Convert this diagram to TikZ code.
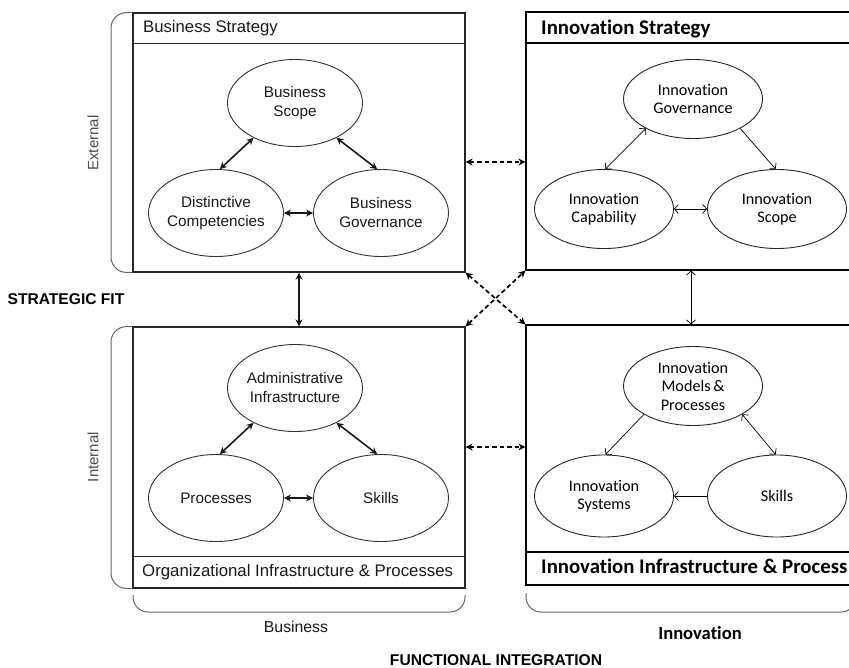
\documentclass[tikz,border=0pt]{standalone}
\usepackage{fontspec}
\setmainfont{Liberation Sans}
\newfontfamily\calfont[Ligatures=NoCommon]{Carlito}
\usetikzlibrary{arrows.meta,shapes.geometric}
\begin{document}
\begin{tikzpicture}[x=1pt,y=-1pt,
  box/.style={draw=black!85, line width=1.1pt, rectangle, inner sep=0pt},
  rbox/.style={draw=black, line width=1.2pt, rectangle, inner sep=0pt},
  lell/.style={ellipse, draw=black!80, line width=0.9pt, minimum width=135pt, minimum height=87pt, inner sep=0pt},
  rell/.style={ellipse, draw=black!85, line width=0.9pt, minimum width=139pt, minimum height=79pt, inner sep=0pt},
  ltext/.style={align=center, inner sep=0pt, text=black!90, font=\fontsize{15.3}{19}\selectfont},
  rtext/.style={align=center, inner sep=0pt, text=black, font=\calfont\fontsize{16.2}{18.5}\selectfont},
  larr/.style={{Stealth[length=7pt,width=7pt]}-{Stealth[length=7pt,width=7pt]}, line width=1.6pt, black!90},
  rarr/.style={-{Straight Barb[length=4pt,width=9pt]}, line width=0.7pt},
  rdarr/.style={{Straight Barb[length=4pt,width=9pt]}-{Straight Barb[length=4pt,width=9pt]}, line width=0.7pt},
  dasharr/.style={{Stealth[length=7pt,width=7pt]}-{Stealth[length=7pt,width=7pt]}, line width=1.7pt, dash pattern=on 4.5pt off 3pt},
  brk/.style={draw=black!60, line width=1pt, rounded corners=15pt},
  sidelbl/.style={rotate=90, inner sep=0pt, text=black!70, font=\fontsize{15}{18}\selectfont}
]
\useasboundingbox (0,0) rectangle (849,667);
\clip (0,0) rectangle (849,667);

% ---- boxes ----
\node[box, minimum width=332pt, minimum height=259pt] (bsbox) at (299,142.5) {};
\node[box, minimum width=332pt, minimum height=261pt] (oibox) at (299,457.5) {};
\node[rbox, minimum width=330pt, minimum height=258pt] (isbox) at (691,141) {};
\node[rbox, minimum width=330pt, minimum height=260pt] (iibox) at (691,455) {};

\draw[black!85, line width=1pt] (bsbox.west |- 0,43) -- (bsbox.east |- 0,43);
\draw[black!85, line width=1pt] (oibox.west |- 0,556) -- (oibox.east |- 0,556);
\draw[line width=1.1pt] (isbox.west |- 0,43) -- (isbox.east |- 0,43);
\draw[line width=1.1pt] (iibox.west |- 0,552) -- (iibox.east |- 0,552);

\node[anchor=west, inner sep=0pt, text=black!90, font=\fontsize{16.7}{19}\selectfont] (bst) at (143,28) {Business Strategy};
\node[anchor=west, inner sep=0pt, text=black!90, font=\fontsize{16.8}{19}\selectfont] (oit) at (142,572) {Organizational Infrastructure \& Processes};
\node[anchor=west, inner sep=0pt, font=\calfont\bfseries\fontsize{20.8}{23}\selectfont] (ist) at (541,29) {Innovation Strategy};
\node[anchor=west, inner sep=0pt, font=\calfont\bfseries\fontsize{20.8}{23}\selectfont] (iit) at (541,566) {Innovation Infrastructure \& Process};

% ---- business strategy ellipses ----
\node[lell] (bs) at (295,103) {};
\node[lell] (dc) at (216,213) {};
\node[lell] (bg) at (381,213) {};
\node[ltext] (bsT) at (bs) {Business\\Scope};
\node[ltext] (dcT) at (dc) {Distinctive\\Competencies};
\node[ltext] (bgT) at (bg) {Business\\Governance};
\draw[larr] (bs.220) -- (dc.85);
\draw[larr] (bs.320) -- (bg.95);
\draw[larr] (dc.east) -- (bg.west);

% ---- organizational infrastructure ellipses ----
\node[lell] (ai) at (295,388) {};
\node[lell] (pr) at (216,498) {};
\node[lell] (sk) at (381,498) {};
\node[ltext] (aiT) at (ai) {Administrative\\Infrastructure};
\node[ltext] (prT) at (pr) {Processes};
\node[ltext] (skT) at (sk) {Skills};
\draw[larr] (ai.220) -- (pr.85);
\draw[larr] (ai.320) -- (sk.95);
\draw[larr] (pr.east) -- (sk.west);

% ---- innovation strategy ellipses ----
\node[rell] (ig) at (693,99) {};
\node[rell] (ic) at (604,209) {};
\node[rell] (isc) at (777,209) {};
\node[rtext] (igT) at (ig) {Innovation\\Governance};
\node[rtext] (icT) at (ic) {Innovation\\Capability};
\node[rtext] (iscT) at (isc) {Innovation\\Scope};
\draw[rdarr] (ig.212) -- (ic.88);
\draw[rarr] (ig.328) -- (isc.92);
\draw[rdarr] (ic.east) -- (isc.west);

% ---- innovation infrastructure ellipses ----
\node[rell] (mp) at (693,386) {};
\node[rell, minimum height=82pt] (sy) at (604,496) {};
\node[rell, minimum height=82pt] (sk2) at (777,496) {};
\node[rtext] (mpT) at (mp) {Innovation\\Models\,\&\\Processes};
\node[rtext] (syT) at (sy) {Innovation\\Systems};
\node[rtext] (sk2T) at (sk2) {Skills};
\draw[rarr] (mp.210) -- (sy.88);
\draw[rdarr] (mp.330) -- (sk2.92);
\draw[rarr] (sk2.west) -- (sy.east);

% ---- connectors between boxes ----
\draw[larr] (bsbox.south) -- (oibox.north);
\draw[rdarr] (isbox.south) -- (iibox.north);
\draw[dasharr] (bsbox.east |- 0,162) -- (isbox.west |- 0,162);
\draw[dasharr] (oibox.east |- 0,447) -- (iibox.west |- 0,447);
\draw[dasharr] (bsbox.south east) -- (iibox.north west);
\draw[dasharr] (oibox.north east) -- (isbox.south west);

% ---- brackets ----
\draw[brk] (bsbox.north west) -- (111,13) -- (111,272) -- (bsbox.south west);
\draw[brk] (oibox.north west) -- (111,327) -- (111,588) -- (oibox.south west);
\draw[brk] (133,595) -- (133,612) -- (465,612) -- (465,595);
\draw[brk] (526,593) -- (526,612) -- (856,612) -- (856,593);

% ---- labels ----
\node[sidelbl] (ext) at (93,143) {External};
\node[sidelbl] (int) at (93,457) {Internal};
\node[inner sep=0pt, font=\bfseries\fontsize{15.6}{18}\selectfont] (sf) at (66,299) {STRATEGIC FIT};
\node[inner sep=0pt, font=\bfseries\fontsize{15.6}{18}\selectfont] (fi) at (496,660) {FUNCTIONAL INTEGRATION};
\node[inner sep=0pt, text=black!90, font=\fontsize{15.8}{18}\selectfont] (bus) at (296,627) {Business};
\node[inner sep=0pt, font=\calfont\bfseries\fontsize{18.6}{22}\selectfont] (inn) at (700,633) {Innovation};
\end{tikzpicture}
\end{document}
